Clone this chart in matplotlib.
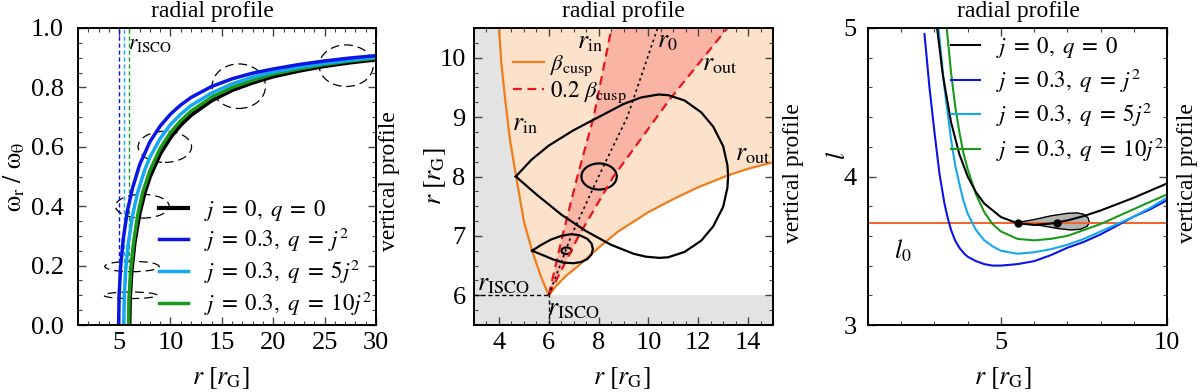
import numpy as np
import matplotlib
matplotlib.use('Agg')
import matplotlib.pyplot as plt
from matplotlib.patches import Ellipse
from matplotlib.ticker import MultipleLocator

plt.rcParams['font.family'] = ['Liberation Serif', 'DejaVu Serif']
plt.rcParams['mathtext.fontset'] = 'stix'

# ---- left panel: epicyclic frequency ratio ----
r_blk = [6.0, 6.05, 6.2, 6.5, 7, 7.5, 8, 9, 10, 11, 12, 14, 16, 18, 20, 22.5, 25, 27.5, 30]
w_blk = [0, 0.09, 0.18, 0.277, 0.378, 0.447, 0.5, 0.577, 0.632, 0.674, 0.707, 0.756, 0.791, 0.816, 0.837, 0.856, 0.872, 0.884, 0.894]
r_blu = [4.95, 5.0, 5.15, 5.4, 5.8, 6.3, 7, 8, 9, 10, 11, 12, 14, 16, 18, 20, 22.5, 25, 27.5, 30]
w_blu = [0, 0.1, 0.197, 0.289, 0.383, 0.46, 0.54, 0.617, 0.67, 0.71, 0.741, 0.766, 0.803, 0.829, 0.848, 0.862, 0.877, 0.889, 0.899, 0.907]
r_cya = [5.45, 5.5, 5.65, 5.9, 6.3, 6.8, 7.5, 8, 9, 10, 11, 12, 14, 16, 18, 20, 22.5, 25, 27.5, 30]
w_cya = [0, 0.095, 0.188, 0.276, 0.367, 0.446, 0.523, 0.565, 0.628, 0.675, 0.71, 0.739, 0.781, 0.812, 0.835, 0.852, 0.868, 0.881, 0.892, 0.902]
r_grn = [5.92, 5.97, 6.12, 6.4, 6.8, 7.3, 8, 9, 10, 11, 12, 14, 16, 18, 20, 22.5, 25, 27.5, 30]
w_grn = [0, 0.09, 0.18, 0.275, 0.37, 0.447, 0.52, 0.595, 0.648, 0.688, 0.72, 0.767, 0.8, 0.824, 0.845, 0.862, 0.877, 0.889, 0.898]
r_isco = [4.95, 5.45, 5.95]

# dashed cross-section ellipses (centre r, centre value, width, height)
ell_r = [6.1, 6.25, 7.26, 9.45, 16.65, 27.1]
ell_w = [0.1, 0.197, 0.4, 0.6, 0.804, 0.873]
ell_dr = [5.2, 5.3, 5.22, 5.2, 5.2, 5.26]
ell_dw = [0.022, 0.035, 0.08, 0.105, 0.15, 0.14]

labels = [r'$j\;=\;0,\ q\;=\;0$', r'$j\;=\;0.3,\ q\;=\;j^2$',
          r'$j\;=\;0.3,\ q\;=\;5j^2$', r'$j\;=\;0.3,\ q\;=\;10j^2$']
colors = ['black', '#0a14e6', '#14a8f0', '#1a9a1a']

# ---- middle panel: r vs beta ----
orl_x = [6.0, 5.7, 5.33, 5.0, 4.69, 4.45, 4.25, 4.1, 4.0]
orl_y = [6.0, 6.3, 6.75, 7.25, 8.0, 8.6, 9.3, 9.9, 10.5]
orr_x = [6.0, 6.3, 6.7, 7.2, 8.0, 8.77, 10.0, 11.0, 12.0, 13.2, 14.0, 15.0]
orr_y = [6.0, 6.16, 6.33, 6.5, 6.8, 7.07, 7.4, 7.62, 7.82, 8.02, 8.13, 8.24]
rin_x = [6.0, 6.55, 7.15, 7.8, 8.52]
rin_y = [6.0, 7.0, 8.0, 9.0, 10.5]
rout_x = [6.0, 7.2, 8.6, 10.84, 13.17]
rout_y = [6.0, 7.0, 8.0, 9.29, 10.5]
r0_x = [6.0, 6.9, 8.0, 9.15, 10.37]
r0_y = [6.0, 7.0, 8.0, 9.0, 10.5]

big_x = [4.68, 5.3, 6.0, 7.0, 8.0, 9.0, 9.7, 10.4, 10.79, 11.45, 12.12, 12.6, 13.0, 13.17, 13.2,
         13.17, 13.0, 12.6, 12.12, 11.45, 10.79, 10.44, 9.9, 9.4, 8.5, 7.5, 6.5, 5.5, 4.68]
big_y = [8.0, 8.28, 8.52, 8.78, 9.0, 9.22, 9.33, 9.38, 9.37, 9.28, 9.08, 8.84, 8.51, 8.19, 8.0,
         7.81, 7.49, 7.16, 6.92, 6.73, 6.64, 6.63, 6.65, 6.7, 6.85, 7.08, 7.36, 7.7, 8.0]
small_x = [5.33, 5.7, 6.1, 6.5, 6.9, 7.25, 7.55, 7.72, 7.77, 7.72, 7.55, 7.3, 7.0, 6.6, 6.2, 5.8, 5.33]
small_y = [6.75, 6.85, 6.94, 7.0, 7.03, 7.01, 6.95, 6.87, 6.78, 6.69, 6.61, 6.56, 6.54, 6.55, 6.6, 6.67, 6.75]
tor_cx = [8.02, 6.71]
tor_cy = [8.0, 6.75]
tor_w = [1.42, 0.4]
tor_h = [0.44, 0.11]

# ---- right panel: angular momentum ----
lr_blk = [3.08, 3.25, 3.5, 3.75, 4.0, 4.25, 4.5, 5.0, 5.5, 6.0, 6.5, 7.0, 7.5, 8.0, 9.0, 10.0]
l_blk = [5.0, 4.687, 4.365, 4.15, 4.0, 3.894, 3.818, 3.727, 3.685, 3.674, 3.683, 3.704, 3.734, 3.771, 3.857, 3.953]
lr_blu = [2.7, 2.85, 3.0, 3.15, 3.3, 3.4, 3.5, 3.62, 3.75, 3.9, 4.0, 4.25, 4.5, 4.75, 5.0, 5.5, 6.0, 6.5, 7.0, 7.5, 8.0, 8.5, 9.0, 9.5, 10.0]
l_blu = [4.96, 4.6, 4.3, 4.02, 3.82, 3.72, 3.64, 3.57, 3.52, 3.48, 3.46, 3.43, 3.41, 3.4, 3.4, 3.41, 3.43, 3.47, 3.52, 3.56, 3.61, 3.67, 3.73, 3.78, 3.84]
lr_cya = [3.12, 3.3, 3.5, 3.62, 3.75, 3.87, 4.0, 4.25, 4.5, 4.75, 5.0, 5.5, 6.0, 6.5, 7.0, 7.5, 8.0, 8.5, 9.0, 9.5, 10.0]
l_cya = [5.0, 4.6, 4.25, 4.08, 3.95, 3.84, 3.75, 3.64, 3.57, 3.53, 3.5, 3.48, 3.49, 3.51, 3.54, 3.58, 3.63, 3.68, 3.73, 3.79, 3.857]
lr_grn = [3.37, 3.5, 3.62, 3.75, 3.87, 4.0, 4.25, 4.5, 4.75, 5.0, 5.5, 6.0, 6.5, 7.0, 7.5, 8.0, 8.5, 9.0, 9.5, 10.0]
l_grn = [5.0, 4.7, 4.48, 4.3, 4.16, 4.05, 3.88, 3.76, 3.68, 3.63, 3.58, 3.57, 3.58, 3.6, 3.64, 3.68, 3.73, 3.78, 3.83, 3.879]
l0 = 3.69
blob_x = [5.5, 6.0, 6.5, 7.0, 7.3, 7.5, 7.63, 7.66, 7.6, 7.4, 7.1, 6.7, 6.2, 5.5]
blob_y = [3.69, 3.71, 3.735, 3.752, 3.755, 3.745, 3.72, 3.69, 3.665, 3.645, 3.64, 3.65, 3.67, 3.69]
dots_x = [5.5, 6.7]

FS = 16.5
TS = 19


def style(ax, ypad=6):
    ax.tick_params(which='both', direction='in', top=True, right=True,
                   labelsize=TS, color='#444444')
    ax.tick_params(which='major', length=6, width=1)
    ax.tick_params(which='minor', length=3, width=0.8)
    ax.tick_params(axis='y', pad=ypad)
    ax.tick_params(axis='x', pad=5)
    for s in ax.spines.values():
        s.set_linewidth(1.4)


def place_labels(ax, xl, yl, xpos, ypos, fs=FS + 2):
    ax.set_xlabel(xl, fontsize=fs, va='center', ha='center')
    ax.set_ylabel(yl, fontsize=fs, va='center', ha='center')
    ax.xaxis.set_label_coords(xpos, -0.178)
    ax.yaxis.set_label_coords(*ypos)


fig = plt.figure(figsize=(12, 3.92), dpi=100)
ax1 = fig.add_axes([78 / 1200, 1 - 325 / 392, 298 / 1200, 297 / 392])
ax2 = fig.add_axes([474 / 1200, 1 - 325 / 392, 299 / 1200, 297 / 392])
ax3 = fig.add_axes([868 / 1200, 1 - 325 / 392, 299 / 1200, 297 / 392])

# left
for x, c in zip(r_isco, colors[1:]):
    ax1.axvline(x, color=c, lw=1, ls=(0, (3, 2)))
for cx, cy, w, h in zip(ell_r, ell_w, ell_dr, ell_dw):
    ax1.add_patch(Ellipse((cx, cy), w, h, fill=False, ec='black', lw=0.9, ls=(0, (7, 4))))
ax1.plot(r_blk, w_blk, color=colors[0], lw=3, label=labels[0])
ax1.plot(r_grn, w_grn, color=colors[3], lw=2.5, label=labels[3])
ax1.plot(r_cya, w_cya, color=colors[2], lw=2.5, label=labels[2])
ax1.plot(r_blu, w_blu, color=colors[1], lw=2.5, label=labels[1])
h, l = ax1.get_legend_handles_labels()
order = [0, 3, 2, 1]
ax1.legend([h[i] for i in order], [l[i] for i in order], loc='lower right',
           bbox_to_anchor=(1.057, -0.045), frameon=False, fontsize=FS,
           handlelength=1.3, labelspacing=0.15, handletextpad=0.7)
ax1.text(8.0, 0.946, r'$r_{\rm ISCO}$', fontsize=FS - 1, ha='center', va='center')
ax1.set_xlim(1, 30)
ax1.set_ylim(0, 1)
ax1.xaxis.set_major_locator(MultipleLocator(5))
ax1.xaxis.set_minor_locator(MultipleLocator(1))
ax1.yaxis.set_major_locator(MultipleLocator(0.2))
ax1.yaxis.set_minor_locator(MultipleLocator(0.05))
ax1.yaxis.set_major_formatter(plt.FormatStrFormatter('%.1f'))
style(ax1, ypad=10)
place_labels(ax1, r'$r\ [r_{\rm G}]$', r'$\mathrm{\omega_r\ /\ \omega_\theta}$', 0.48, (-0.215, 0.5))

# middle
ax2.fill_betweenx(orl_y, 3, orl_x, color='#e3e3e3', lw=0)
ax2.axhspan(5.5, 6.0, color='#e3e3e3', lw=0)
peach_x = orl_x + [15] + orr_x[::-1]
peach_y = orl_y + [10.5] + orr_y[::-1]
ax2.fill(peach_x, peach_y, color='#fde2cb', lw=0)
ax2.fill(rin_x + rout_x[::-1], rin_y + rout_y[::-1], color='#f9b4a4', lw=0)
ax2.plot(orl_x, orl_y, color='#f07c1a', lw=1.6, label=r'$\beta_{\rm cusp}$')
ax2.plot(orr_x, orr_y, color='#f07c1a', lw=1.6)
ax2.plot(rin_x, rin_y, color='#e8141e', lw=1.6, ls=(0, (4, 2.5)), label=r'$0.2\ \beta_{\rm cusp}$')
ax2.plot(rout_x, rout_y, color='#e8141e', lw=1.6, ls=(0, (4, 2.5)))
ax2.plot(r0_x, r0_y, color='black', lw=1.2, ls=(0, (1.5, 2)))
ax2.plot([3, 6], [6, 6], color='black', lw=1, ls=(0, (3, 2)))
ax2.plot([6, 6], [5.5, 6], color='black', lw=1, ls=(0, (3, 2)))
ax2.plot(big_x, big_y, color='black', lw=1.6)
ax2.plot(small_x, small_y, color='black', lw=1.6)
for cx, cy, w, hh in zip(tor_cx, tor_cy, tor_w, tor_h):
    ax2.add_patch(Ellipse((cx, cy), w, hh, fill=False, ec='black', lw=1.6))
ax2.text(7.64, 10.25, r'$r_{\rm in}$', fontsize=FS + 2, ha='center', va='center')
ax2.text(5.04, 8.87, r'$r_{\rm in}$', fontsize=FS + 2, ha='center', va='center')
ax2.text(10.75, 10.27, r'$r_0$', fontsize=FS + 2, ha='center', va='center')
ax2.text(12.84, 9.88, r'$r_{\rm out}$', fontsize=FS + 2, ha='center', va='center')
ax2.text(14.17, 8.36, r'$r_{\rm out}$', fontsize=FS + 2, ha='center', va='center')
ax2.text(4.17, 6.17, r'$r_{\rm ISCO}$', fontsize=FS + 2, ha='center', va='center')
ax2.text(6.97, 5.75, r'$r_{\rm ISCO}$', fontsize=FS + 2, ha='center', va='center')
ax2.legend(loc='upper left', bbox_to_anchor=(0.06, 0.985), frameon=False,
           fontsize=FS, handlelength=1.35, labelspacing=0.1, handletextpad=0.3)
ax2.set_xlim(3, 15)
ax2.set_ylim(5.5, 10.5)
ax2.xaxis.set_major_locator(MultipleLocator(2))
ax2.xaxis.set_minor_locator(MultipleLocator(0.5))
ax2.yaxis.set_major_locator(MultipleLocator(1))
ax2.yaxis.set_minor_locator(MultipleLocator(0.25))
style(ax2, ypad=6)
place_labels(ax2, r'$r\ [r_{\rm G}]$', r'$r\ [r_{\rm G}]$', 0.494, (-0.13, 0.5))

# right
ax3.axhline(l0, color='#f4622a', lw=1.4)
ax3.plot(lr_blu, l_blu, color=colors[1], lw=1.5, label=labels[1])
ax3.plot(lr_cya, l_cya, color=colors[2], lw=1.5, label=labels[2])
ax3.plot(lr_grn, l_grn, color=colors[3], lw=1.5, label=labels[3])
ax3.fill(blob_x, blob_y, fc='#b4b4b4', ec='black', lw=1)
ax3.plot(lr_blk, l_blk, color=colors[0], lw=1.5, label=labels[0])
ax3.plot(dots_x, [l0] * len(dots_x), 'o', color='black', ms=5)
h, l = ax3.get_legend_handles_labels()
order = [3, 0, 1, 2]
ax3.legend([h[i] for i in order], [l[i] for i in order], loc='upper right',
           bbox_to_anchor=(1.06, 1.045), frameon=False, fontsize=FS,
           handlelength=1.3, labelspacing=0.28, handletextpad=0.7)
ax3.text(2.05, 3.5, r'$l_0$', fontsize=FS + 2, ha='center', va='center')
ax3.set_xlim(1, 10)
ax3.set_ylim(3, 5)
ax3.xaxis.set_major_locator(MultipleLocator(5))
ax3.xaxis.set_minor_locator(MultipleLocator(1))
ax3.yaxis.set_major_locator(MultipleLocator(1))
ax3.yaxis.set_minor_locator(MultipleLocator(0.2))
style(ax3, ypad=8)
place_labels(ax3, r'$r\ [r_{\rm G}]$', r'$l$', 0.45, (-0.10, 0.57), fs=FS + 2)

# titles and side labels
for xc in [212, 623, 1018]:
    fig.text(xc / 1200, 1 - 12 / 392, 'radial profile', ha='center', va='center', fontsize=FS + 0.5)
for xc, yc in [(390, 181), (793, 173), (1188, 173)]:
    fig.text(xc / 1200, 1 - yc / 392, 'vertical profile', ha='center', va='center',
             rotation=90, fontsize=FS + 0.5)

fig.savefig('out.png', dpi=100)
